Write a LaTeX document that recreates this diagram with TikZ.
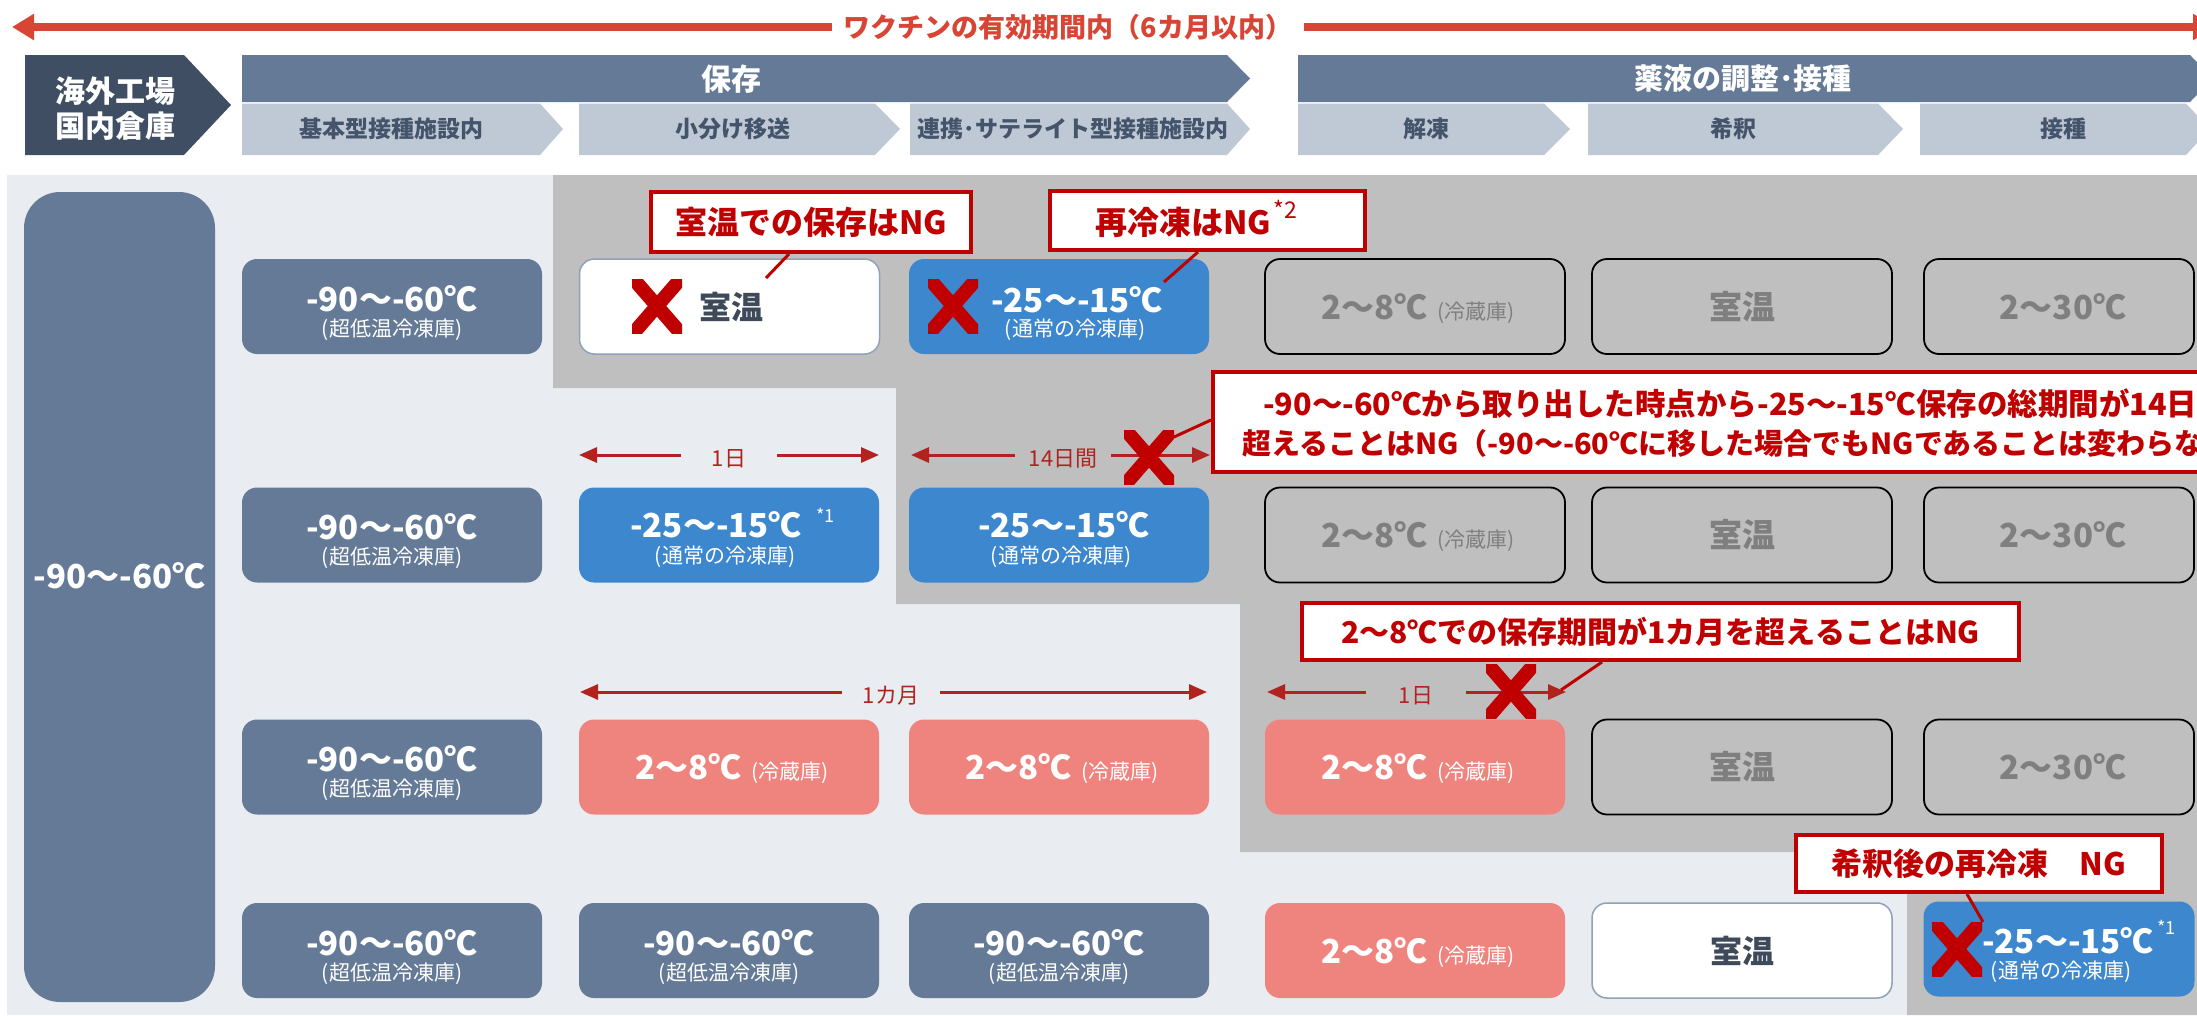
\documentclass[tikz,border=0pt]{standalone}
\usepackage{fontspec}
\setmainfont{Noto Sans CJK JP}
\usetikzlibrary{arrows.meta,calc}
\definecolor{titlered}{HTML}{D84535}
\definecolor{hdrdark}{HTML}{3F4E62}
\definecolor{slate}{HTML}{647A96}
\definecolor{sublight}{HTML}{BFC9D6}
\definecolor{subtext}{HTML}{44546A}
\definecolor{bglight}{HTML}{E9ECF1}
\definecolor{bggray}{HTML}{BFBFBF}
\definecolor{boxblue}{HTML}{3C87CD}
\definecolor{boxpink}{HTML}{EF847E}
\definecolor{wborder}{HTML}{8FA2BA}
\definecolor{ngred}{HTML}{C00000}
\definecolor{dimred}{HTML}{B2221E}
\definecolor{graytext}{HTML}{7F7F7F}
\definecolor{roomtext}{HTML}{3E4A5A}
\newcommand\myfs[1]{\fontsize{#1pt}{#1pt}\selectfont}
\tikzset{
 tbox/.style={rounded corners=15pt, minimum width=300pt, minimum height=95pt, inner sep=0pt},
 slatebox/.style={tbox, fill=slate},
 bluebox/.style={tbox, fill=boxblue},
 pinkbox/.style={tbox, fill=boxpink},
 whitebox/.style={tbox, fill=white, draw=wborder, line width=1.5pt},
 outbox/.style={tbox, draw=black, line width=1.8pt},
 maintxt/.style={inner sep=0pt, text=white, font=\myfs{33}\bfseries},
 subtxt/.style={inner sep=0pt, text=white, font=\myfs{21}},
 suptxt/.style={inner sep=0pt, text=white, font=\myfs{18}},
 graytxt/.style={inner sep=0pt, text=graytext, font=\myfs{33}\bfseries},
 roomtxt/.style={inner sep=0pt, text=roomtext, font=\myfs{32}\bfseries},
 hdrtxt/.style={inner sep=0pt, text=white, font=\myfs{30}\bfseries},
 subhdr/.style={inner sep=0pt, text=subtext, font=\myfs{23}\bfseries},
 callout/.style={draw=ngred, line width=4pt, fill=white, text=ngred, inner sep=0pt, font=\myfs{32}\bfseries},
 ctxt/.style={inner sep=0pt, text=ngred, font=\myfs{29}\bfseries},
 ptr/.style={draw=ngred, line width=3pt},
 titlearrow/.style={draw=titlered, line width=8pt, -{Triangle[length=22pt,width=25pt]}},
 dim/.style={draw=dimred, line width=3pt, -{Triangle[length=18pt,width=15pt]}},
 dimlbl/.style={inner ysep=0pt, text=dimred, font=\myfs{22}},
 xmark/.pic={\begin{scope}\clip (-25,-27) rectangle (25,27);
   \draw[draw=ngred, line width=14pt] (-33,-38) -- (33,38) (-33,38) -- (33,-38);\end{scope}}
}
\newcommand\ultrabox[3]{%
 \node[slatebox] (#1) at (#2,#3) {};
 \node[maintxt] (#1m) at ($(#1.center)+(0,-8)$) {-90〜-60℃};
 \node[subtxt] (#1s) at ($(#1.center)+(0,23)$) {(超低温冷凍庫)};}
\newcommand\fridge[5]{%
 \node[#2] (#1) at (#4,#5) {};
 \node[inner sep=0pt, text=#3] (#1t) at ($(#1.center)+(3,2)$) {{\myfs{33}\bfseries 2〜8℃}\hspace{10pt}{\myfs{21}(冷蔵庫)}};}
\begin{document}
\begin{tikzpicture}[x=1pt,y=-1pt]
\useasboundingbox (0,0) rectangle (2197,1015);
% backgrounds
\fill[bglight] (7,175) rectangle (2197,1015);
\fill[bggray] (553,175) -- (2197,175) -- (2197,1015) -- (1907,1015) -- (1907,852) -- (1240,852) -- (1240,604) -- (896,604) -- (896,388) -- (553,388) -- cycle;
% title arrow
\node[inner xsep=12pt, inner ysep=0pt, text=titlered, font=\myfs{27}\bfseries] (title) at (1068,27) {ワクチンの有効期間内（6カ月以内）};
\coordinate (tL) at (12,27);
\coordinate (tR) at (2215,27);
\draw[titlearrow] (title.west) -- (tL);
\draw[titlearrow] (title.east) -- (tR);
% header shapes
\fill[hdrdark] (25,55) -- (184,55) -- (231,105) -- (184,155) -- (25,155) -- cycle;
\fill[slate] (242,55) -- (1227,55) -- (1250,78.5) -- (1227,102) -- (242,102) -- cycle;
\fill[slate] (1298,55) -- (2190,55) -- (2213,78.5) -- (2190,102) -- (1298,102) -- cycle;
\fill[sublight] (242,103.5) -- (540,103.5) -- (563,129) -- (540,155) -- (242,155) -- cycle;
\fill[sublight] (579,103.5) -- (875,103.5) -- (900,129) -- (875,155) -- (579,155) -- cycle;
\fill[sublight] (910,103.5) -- (1227,103.5) -- (1250,129) -- (1227,155) -- (910,155) -- cycle;
\fill[sublight] (1298,103.5) -- (1544,103.5) -- (1570,129) -- (1544,155) -- (1298,155) -- cycle;
\fill[sublight] (1588,103.5) -- (1878,103.5) -- (1903,129) -- (1878,155) -- (1588,155) -- cycle;
\fill[sublight] (1920,103.5) -- (2186,103.5) -- (2210,129) -- (2186,155) -- (1920,155) -- cycle;
\node[hdrtxt] (h0a) at (115,91) {海外工場};
\node[hdrtxt] (h0b) at (115,126) {国内倉庫};
\node[hdrtxt] (h1) at (731,79) {保存};
\node[hdrtxt, font=\myfs{29}\bfseries] (h2) at (1743,79) {薬液の調整･接種};
\node[subhdr] (s1) at (391,129) {基本型接種施設内};
\node[subhdr] (s2) at (733,129) {小分け移送};
\node[subhdr] (s3) at (1073,129) {連携･サテライト型接種施設内};
\node[subhdr] (s4) at (1426,129) {解凍};
\node[subhdr] (s5) at (1733,129) {希釈};
\node[subhdr] (s6) at (2063,129) {接種};
% big left box
\node[fill=slate, rounded corners=36pt, minimum width=191pt, minimum height=810pt, inner sep=0pt] (big) at (119.5,597) {};
\node[maintxt] (bigt) at (119.5,576) {-90〜-60℃};
% column 0 and row 4 ultra-low boxes
\ultrabox{b10}{392}{306.5}
\ultrabox{b20}{392}{535}
\ultrabox{b30}{392}{767}
\ultrabox{b40}{392}{950.5}
\ultrabox{b41}{729}{950.5}
\ultrabox{b42}{1059}{950.5}
% row 1
\node[whitebox] (b11) at (729.5,306.5) {};
\node[roomtxt] (b11t) at (731,307) {室温};
\pic at (657,306) {xmark};
\node[bluebox] (b12) at (1059,306.5) {};
\node[maintxt] (b12m) at ($(b12.center)+(18,-7)$) {-25〜-15℃};
\node[subtxt] (b12s) at ($(b12.center)+(16,23)$) {(通常の冷凍庫)};
\pic at (953,306) {xmark};
\fridge{b13}{outbox}{graytext}{1415}{306.5}
\node[outbox] (b14) at (1742,306.5) {};
\node[graytxt] (b14t) at (b14.center) {室温};
\node[outbox, minimum width=270pt] (b15) at (2059,306.5) {};
\node[graytxt] (b15t) at ($(b15.center)+(4,0)$) {2〜30℃};
% row 2
\node[bluebox] (b21) at (729,535) {};
\node[maintxt] (b21m) at (716,525) {-25〜-15℃};
\node[suptxt, anchor=west] (b21x) at ([xshift=14pt,yshift=-4pt]b21m.north east) {*1};
\node[subtxt] (b21s) at (725,557) {(通常の冷凍庫)};
\node[bluebox] (b22) at (1059,535) {};
\node[maintxt] (b22m) at (1064,525) {-25〜-15℃};
\node[subtxt] (b22s) at (1061,557) {(通常の冷凍庫)};
\fridge{b23}{outbox}{graytext}{1415}{535}
\node[outbox] (b24) at (1742,535) {};
\node[graytxt] (b24t) at (b24.center) {室温};
\node[outbox, minimum width=270pt] (b25) at (2059,535) {};
\node[graytxt] (b25t) at ($(b25.center)+(4,0)$) {2〜30℃};
% row 3
\fridge{b31}{pinkbox}{white}{729}{767}
\fridge{b32}{pinkbox}{white}{1059}{767}
\fridge{b33}{pinkbox}{white}{1415}{767}
\node[outbox] (b34) at (1742,767) {};
\node[graytxt] (b34t) at (b34.center) {室温};
\node[outbox, minimum width=270pt] (b35) at (2059,767) {};
\node[graytxt] (b35t) at ($(b35.center)+(4,0)$) {2〜30℃};
% row 4
\fridge{b43}{pinkbox}{white}{1415}{950.5}
\node[whitebox] (b44) at (1742,950.5) {};
\node[roomtxt] (b44t) at (b44.center) {室温};
\node[bluebox, minimum width=271pt] (b45) at (2059,949) {};
\node[maintxt] (b45m) at (2068,941) {-25〜-15℃};
\node[suptxt, anchor=west] (b45x) at ([xshift=3pt]b45m.north east) {*1};
\node[subtxt] (b45s) at (2061,972) {(通常の冷凍庫)};
\pic at (1957,949) {xmark};
% period arrows
\coordinate (a1L) at (579,455);
\coordinate (a1R) at (879,455);
\node[dimlbl, inner xsep=31pt] (a1) at (729,459) {1日};
\draw[dim] (a1.west |- a1L) -- (a1L);
\draw[dim] (a1.east |- a1R) -- (a1R);
\coordinate (a2L) at (911,455);
\coordinate (a2R) at (1210,455);
\node[dimlbl, inner xsep=14pt] (a2) at (1063,459) {14日間};
\draw[dim] (a2.west |- a2L) -- (a2L);
\draw[dim] (a2.east |- a2R) -- (a2R);
\coordinate (a3L) at (580,692);
\coordinate (a3R) at (1207,692);
\node[dimlbl, inner xsep=21pt] (a3) at (891,696) {1カ月};
\draw[dim] (a3.west |- a3L) -- (a3L);
\draw[dim] (a3.east |- a3R) -- (a3R);
\coordinate (a4L) at (1267,692);
\coordinate (a4R) at (1566,692);
\node[dimlbl, inner xsep=33pt] (a4) at (1416,696) {1日};
\draw[dim] (a4.west |- a4L) -- (a4L);
\draw[dim] (a4.east |- a4R) -- (a4R);
\pic at (1149,457) {xmark};
\pic at (1511,691) {xmark};
% callouts
\node[callout, minimum width=320pt, minimum height=60pt] (n1) at (811,222) {室温での保存はNG};
\coordinate (p1) at (766,278);
\draw[ptr] ([xshift=-22pt]n1.south) -- (p1);
\node[callout, minimum width=315pt, minimum height=59pt] (n2) at (1207.5,220.5) {};
\node[inner sep=0pt, text=ngred, font=\myfs{32}\bfseries] (n2t) at (1183,222) {再冷凍はNG};
\node[inner sep=0pt, text=ngred, font=\myfs{23}, anchor=west] (n2s) at ([xshift=2pt,yshift=-3pt]n2t.north east) {*2};
\coordinate (p2) at (1164,282);
\draw[ptr] ([xshift=-9.5pt]n2.south) -- (p2);
\node[callout, minimum width=1100pt, minimum height=100pt] (n3) at (1763,422) {};
\node[ctxt, font=\myfs{30.5}\bfseries, anchor=west] (n3a) at (1263,404) {-90〜-60℃から取り出した時点から-25〜-15℃保存の総期間が14日を};
\node[ctxt, anchor=west] (n3b) at (1242,443) {超えることはNG（-90〜-60℃に移した場合でもNGであることは変わらない）};
\coordinate (p3) at (1174,437);
\draw[ptr] ([yshift=2pt]n3.west) -- (p3);
\node[callout, font=\myfs{30}\bfseries, minimum width=717pt, minimum height=57pt] (n4) at (1660.5,631.5) {2〜8℃での保存期間が1カ月を超えることはNG};
\coordinate (p4) at (1561,690);
\draw[ptr] ([xshift=-58.5pt]n4.south) -- (p4);
\node[callout, font=\myfs{31}\bfseries, minimum width=366pt, minimum height=57pt] (n5) at (1979,863.5) {希釈後の再冷凍　NG};
\coordinate (p5) at (1983,922);
\draw[ptr] ([xshift=-12pt]n5.south) -- (p5);
\end{tikzpicture}
\end{document}
